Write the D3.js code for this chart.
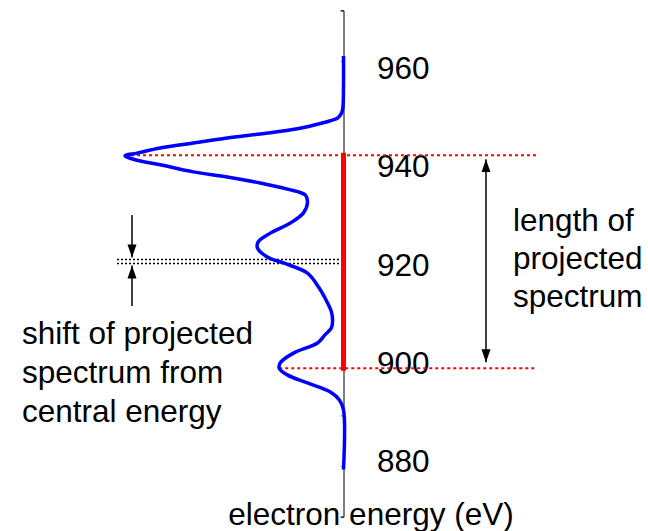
<!DOCTYPE html>
<html>
<head>
<meta charset="utf-8">
<script src="https://cdn.jsdelivr.net/npm/d3@7"></script>
<style>
  html, body { margin: 0; padding: 0; background: #fff; }
  svg { display: block; }
  text { font-family: "Liberation Sans", Arial, Helvetica, sans-serif; fill: #000; }
</style>
</head>
<body>
<svg id="chart" width="648" height="531"></svg>
<script>
// Electron energy spectrum (eV) and its relative intensity
const energy = [961.0, 955.0, 950.7, 949.7, 948.7, 948.2, 947.8, 946.6, 945.6, 944.8, 943.8, 942.8,
  941.8, 941.3, 940.4, 939.5, 938.1, 937.1, 935.9, 934.7, 933.5, 932.0, 930.0, 928.0, 926.0,
  924.3, 923.1, 921.3, 920.1, 918.1, 915.4, 912.2, 910.4, 908.8, 907.3, 905.9, 904.3, 902.3,
  900.4, 899.3, 898.0, 896.4, 894.6, 893.0, 891.1, 879.3];
const intensity = [0, 0, 0.003, 0.009, 0.028, 0.060, 0.092, 0.211, 0.381, 0.532, 0.688, 0.839,
  0.945, 1.0, 0.945, 0.839, 0.688, 0.532, 0.381, 0.257, 0.174, 0.165, 0.183, 0.243, 0.335,
  0.390, 0.394, 0.349, 0.275, 0.165, 0.115, 0.073, 0.055, 0.050, 0.055, 0.085, 0.119, 0.229,
  0.289, 0.294, 0.257, 0.165, 0.060, 0.018, 0, 0];

// Axis
const axisDomain = [870, 970];
const tickStep = [870, 880, 890, 900, 910, 920, 930, 940, 950, 960, 970];
const tickLabels = [960, 940, 920, 900, 880];

// Projected spectrum: ends (eV), peak intensities at the ends, central energy and its shift
const projectedEnds = [941.4, 899.3];
const projectedPeaks = [1.0, 0.294];
const centralEnergy = 920.0;
const projectedCentre = 920.8;

// Annotation texts
const lengthText = ["length of", "projected", "spectrum"];
const shiftText = ["shift of projected", "spectrum from", "central energy"];
const axisTitle = "electron energy (eV)";

const svg = d3.select("#chart");
const axisX = 343.5;
const fontSize = 31.5;

const y = d3.scaleLinear().domain([960, 880]).range([61, 466]);
const labelY = d3.scaleLinear().domain([960, 880]).range([68, 461]);
const x = d3.scaleLinear().domain([0, 1]).range([axisX, 125]);

const defs = svg.append("defs");
defs.append("marker")
  .attr("id", "head")
  .attr("viewBox", "-13 -5 14 10")
  .attr("refX", 0).attr("refY", 0)
  .attr("markerWidth", 14).attr("markerHeight", 10)
  .attr("markerUnits", "userSpaceOnUse")
  .attr("orient", "auto-start-reverse")
  .append("path")
  .attr("d", "M0,0 L-13,-4.5 L-13,4.5 Z")
  .attr("fill", "#000");

// Vertical energy axis with small ticks on the left
const axisScale = y.copy().domain([axisDomain[1], axisDomain[0]]).range([y(axisDomain[1]), y(axisDomain[0])]);
const axis = d3.axisLeft(axisScale)
  .tickValues(tickStep)
  .tickSize(2)
  .tickSizeOuter(3)
  .tickFormat("");
const gAxis = svg.append("g")
  .attr("transform", `translate(${axisX},0)`)
  .call(axis);
gAxis.selectAll("path, line").attr("stroke", "#000").attr("stroke-width", 1);

// Tick labels
svg.append("g").selectAll("text")
  .data(tickLabels)
  .join("text")
  .attr("x", 377)
  .attr("y", d => labelY(d))
  .attr("dy", "0.35em")
  .attr("font-size", fontSize)
  .text(d => d);

// Red dotted lines at the ends of the projected spectrum
svg.append("g").selectAll("line")
  .data(projectedEnds)
  .join("line")
  .attr("x1", (d, i) => x(projectedPeaks[i]))
  .attr("x2", 537)
  .attr("y1", d => y(d))
  .attr("y2", d => y(d))
  .attr("stroke", "#ff0000")
  .attr("stroke-width", 2)
  .attr("stroke-dasharray", "3,3");

// Black dotted lines: central energy and centre of projected spectrum
svg.append("g").selectAll("line")
  .data([projectedCentre, centralEnergy])
  .join("line")
  .attr("x1", 117)
  .attr("x2", axisX - 2)
  .attr("y1", d => y(d))
  .attr("y2", d => y(d))
  .attr("stroke", "#000")
  .attr("stroke-width", 1.5)
  .attr("stroke-dasharray", "2,2");

// Spectrum curve
const line = d3.line()
  .x((d, i) => x(intensity[i]))
  .y(d => y(d))
  .curve(d3.curveCatmullRom.alpha(0.5));
svg.append("path")
  .attr("d", line(energy))
  .attr("fill", "none")
  .attr("stroke", "#0000ff")
  .attr("stroke-width", 3.5)
  .attr("stroke-linejoin", "round");

// Projected spectrum (thick red bar on the axis)
svg.append("line")
  .attr("x1", axisX).attr("x2", axisX)
  .attr("y1", y(projectedEnds[0]))
  .attr("y2", y(projectedEnds[1]))
  .attr("stroke", "#ff0000")
  .attr("stroke-width", 5)
  .attr("stroke-linecap", "square");

// Double arrow: length of projected spectrum
svg.append("line")
  .attr("x1", 486).attr("x2", 486)
  .attr("y1", y(projectedEnds[0]) + 4)
  .attr("y2", y(projectedEnds[1]) - 6)
  .attr("stroke", "#000")
  .attr("stroke-width", 1.5)
  .attr("marker-start", "url(#head)")
  .attr("marker-end", "url(#head)");

// Arrows indicating the shift
svg.append("line")
  .attr("x1", 132).attr("x2", 132)
  .attr("y1", 215)
  .attr("y2", y(projectedCentre) - 2)
  .attr("stroke", "#000")
  .attr("stroke-width", 1.5)
  .attr("marker-end", "url(#head)");
svg.append("line")
  .attr("x1", 132).attr("x2", 132)
  .attr("y1", 306)
  .attr("y2", y(centralEnergy) + 2)
  .attr("stroke", "#000")
  .attr("stroke-width", 1.5)
  .attr("marker-end", "url(#head)");

// Annotation texts
svg.append("g").selectAll("text")
  .data(lengthText)
  .join("text")
  .attr("x", 513)
  .attr("y", (d, i) => 231 + i * 38)
  .attr("font-size", fontSize)
  .text(d => d);

svg.append("g").selectAll("text")
  .data(shiftText)
  .join("text")
  .attr("x", 22)
  .attr("y", (d, i) => 344 + i * 39)
  .attr("font-size", fontSize)
  .text(d => d);

svg.append("text")
  .attr("x", 371)
  .attr("y", 525)
  .attr("text-anchor", "middle")
  .attr("font-size", fontSize)
  .text(axisTitle);
</script>
</body>
</html>
